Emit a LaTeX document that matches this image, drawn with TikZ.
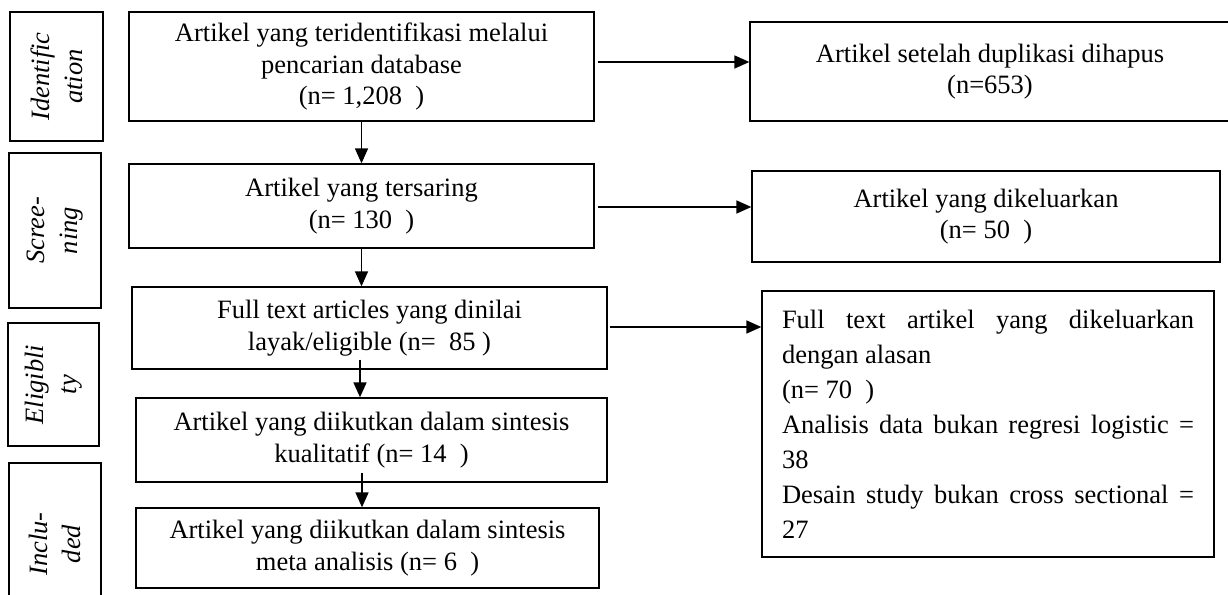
\documentclass[tikz,border=0pt]{standalone}
\usepackage{fontspec}
\setmainfont{Liberation Serif}
\usetikzlibrary{arrows.meta}

\begin{document}
\begin{tikzpicture}[x=1pt,y=1pt,
  box/.style={draw,line width=1.3pt,align=center,inner sep=0pt,
    font=\fontsize{26.5}{31.5}\selectfont},
  side/.style={draw,line width=1.4pt,align=center,inner sep=0pt,rotate=90,
    font=\fontsize{26.5}{33}\selectfont\itshape},
  arr/.style={line width=1.6pt,-{Triangle[length=15pt,width=13pt]}}]
  \useasboundingbox (0,0) rectangle (1228,594);

%% phases, written sideways
  \node (IDENT) at (56.5,517.5) [side,minimum width=129,minimum height=93] {Identific\\ation};
  \node (SCREEN) at (55,363.5) [side,minimum width=155,minimum height=92] {Scree-\\ning};
  \node (ELIG) at (53.5,209.5) [side,minimum width=123,minimum height=91] {Eligibli\\ty};
  \node (INCL) at (55,50) [side,minimum width=162,minimum height=92] {Inclu-\\ded};

%% main column
  \node (FOUND) at (361.5,527.5) [box,minimum width=465,minimum height=109]
    {Artikel yang teridentifikasi melalui\\pencarian database\\(n= 1,208~~)};
  \node (SCRD) at (361.5,388) [box,minimum width=465,minimum height=84]
    {Artikel yang tersaring\\(n= 130~~)};
  \node (FULL) at (369.5,266) [box,minimum width=475,minimum height=82]
    {Full text articles yang dinilai\\layak/eligible (n=~~85~)};
  \node (QUAL) at (371.5,154) [box,minimum width=471,minimum height=84]
    {Artikel yang diikutkan dalam sintesis\\kualitatif (n= 14~~)};
  \node (META) at (367.5,46) [box,minimum width=463,minimum height=80]
    {Artikel yang diikutkan dalam sintesis\\meta analisis (n= 6~~)};

%% excluded, right column
  \node (DUPL) at (990,522.5) [box,minimum width=480,minimum height=99]
    {Artikel setelah duplikasi dihapus\\(n=653)};
  \node (EXCL) at (986,377.5) [box,minimum width=468,minimum height=91]
    {Artikel yang dikeluarkan\\(n= 50~~)};
  \node (FEXCL) at (988,170) [box,align=justify,text width=412,inner xsep=20,
    minimum height=266,font=\fontsize{26.5}{35}\selectfont]
    {Full text artikel yang dikeluarkan\linebreak dengan alasan\\
     (n= 70~~)\\
     Analisis data bukan regresi logistic =\linebreak 38\\
     Desain study bukan cross sectional =\linebreak 27};

  \draw[arr] (FOUND.south) -- (SCRD.north);
  \draw[arr] (SCRD.south) -- (SCRD.south |- FULL.north);
  \draw[arr] ([xshift=-9.5,yshift=10]FULL.south) coordinate (c1) -- (c1 |- QUAL.north);
  \draw[arr] ([xshift=-9.5,yshift=10]QUAL.south) coordinate (d1) -- (d1 |- META.north);

  \draw[arr] ([xshift=3,yshift=4.5]FOUND.east) coordinate (a1) -- (a1 -| DUPL.west);
  \draw[arr] ([xshift=3,yshift=-1]SCRD.east) coordinate (b1) -- (b1 -| EXCL.west);
  \draw[arr] ([xshift=2,yshift=1]FULL.east) coordinate (f1) -- (f1 -| FEXCL.west);

\end{tikzpicture}
\end{document}
